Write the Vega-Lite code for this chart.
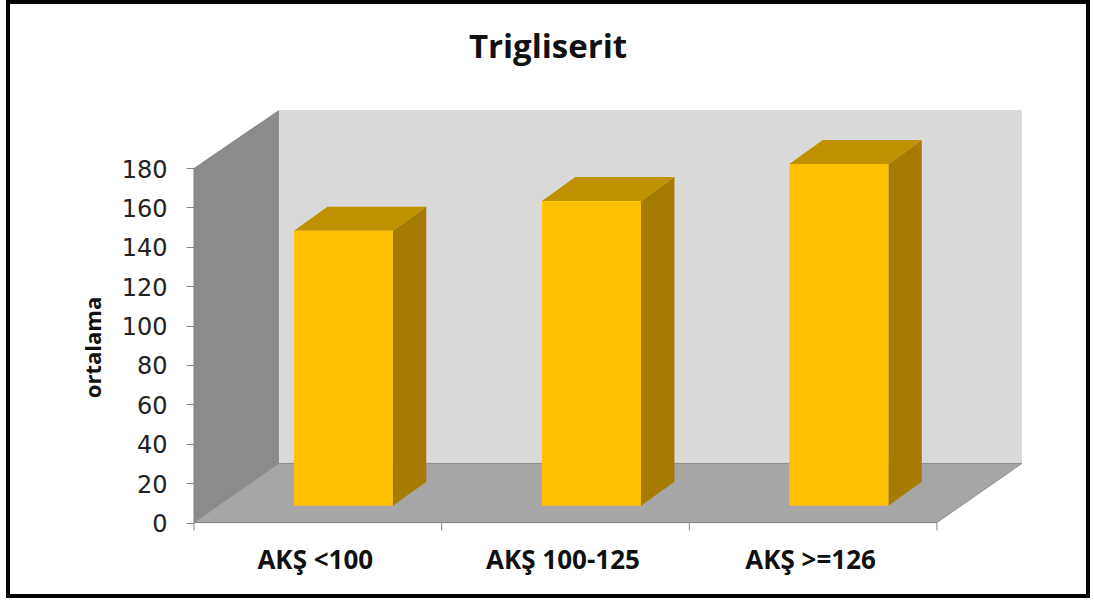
{
"$schema":"https://vega.github.io/schema/vega-lite/v6.json",
"width":1080,"height":594,
"autosize":{"type":"none"},
"padding":{"left":8,"top":2,"right":6,"bottom":5},
"background":"white",
"view":{"stroke":"#000000","strokeWidth":4,"fill":"white"},
"title":{"text":"Trigliserit","anchor":"middle","offset":-63,"font":"Open Sans","fontSize":33,"fontWeight":"bold","color":"#111111"},
"encoding":{
 "x":{"field":"x","type":"quantitative","title":null,"scale":{"domain":[-0.751,3.61],"nice":false,"zero":false},
  "axis":{"orient":"bottom","offset":-73.5,"values":[0.5,1.5,2.5],"ticks":false,"domain":false,"grid":false,"labelPadding":38,"labelOffset":-3,"labelFont":"Open Sans","labelFontSize":26,"labelFontWeight":"bold","labelColor":"#111111","labelBaseline":"middle","labelExpr":"datum.value==0.5?'AKŞ <100':datum.value==1.5?'AKŞ 100-125':'AKŞ >=126'"}},
 "y":{"field":"y","type":"quantitative","scale":{"domain":[-37.3,264.3],"nice":false,"zero":false},
  "axis":{"orient":"left","offset":-186,"values":[0,20,40,60,80,100,120,140,160,180],"domain":false,"grid":false,"tickColor":"#868686","tickSize":8,"labelPadding":19,"labelOffset":2,"labelFont":"DejaVu Sans","labelFontSize":24,"labelColor":"#222222","title":"ortalama","titleFont":"Open Sans","titleFontSize":22,"titleFontWeight":"bold","titleColor":"#111111","titleX":-101,"titleY":345,"titleAngle":-90,"titleBaseline":"middle","titleAlign":"center"}}
},
"layer":[
 {"data":{"values":[{"x":0.343,"x2":3.343,"y":30,"y2":209.5}]},
  "mark":{"type":"rect","color":"#D9D9D9"},
  "encoding":{"x2":{"field":"x2"},"y2":{"field":"y2"}}},
 {"data":{"values":[{"x":0,"y":0,"y2":180},{"x":0.343,"y":30,"y2":209.5}]},
  "mark":{"type":"area","orient":"vertical","color":"#8B8B8B"},
  "encoding":{"y2":{"field":"y2"}}},
 {"data":{"values":[{"y":0,"x":0,"x2":3},{"y":30,"x":0.343,"x2":3.343}]},
  "mark":{"type":"area","orient":"horizontal","color":"#A6A6A6","stroke":"#8F8F8F","strokeWidth":1},
  "encoding":{"x2":{"field":"x2"}}},
 {"data":{"values":[
   {"group":"AKŞ <100","x":0.803,"y":8.5,"y2":148.2},{"group":"AKŞ <100","x":0.938,"y":20.7,"y2":160.3},
   {"group":"AKŞ 100-125","x":1.805,"y":8.5,"y2":163.3},{"group":"AKŞ 100-125","x":1.94,"y":20.7,"y2":175.4},
   {"group":"AKŞ >=126","x":2.804,"y":8.5,"y2":182.1},{"group":"AKŞ >=126","x":2.939,"y":20.7,"y2":194.2}]},
  "mark":{"type":"area","orient":"vertical","color":"#A67C00"},
  "encoding":{"y2":{"field":"y2"},"detail":{"field":"group"}}},
 {"data":{"values":[
   {"group":"AKŞ <100","y":148.2,"x":0.404,"x2":0.803},{"group":"AKŞ <100","y":160.3,"x":0.539,"x2":0.938},
   {"group":"AKŞ 100-125","y":163.3,"x":1.405,"x2":1.805},{"group":"AKŞ 100-125","y":175.4,"x":1.54,"x2":1.94},
   {"group":"AKŞ >=126","y":182.1,"x":2.404,"x2":2.804},{"group":"AKŞ >=126","y":194.2,"x":2.539,"x2":2.939}]},
  "mark":{"type":"area","orient":"horizontal","color":"#BF9000"},
  "encoding":{"x2":{"field":"x2"},"detail":{"field":"group"}}},
 {"data":{"values":[
   {"group":"AKŞ <100","x":0.404,"x2":0.803,"y":8.5,"y2":148.2},
   {"group":"AKŞ 100-125","x":1.405,"x2":1.805,"y":8.5,"y2":163.3},
   {"group":"AKŞ >=126","x":2.404,"x2":2.804,"y":8.5,"y2":182.1}]},
  "mark":{"type":"rect","color":"#FFC000"},
  "encoding":{"x2":{"field":"x2"},"y2":{"field":"y2"}}},
 {"data":{"values":[{"x":0,"y":0,"y2":180}]},
  "mark":{"type":"rule","color":"#868686","strokeWidth":1},
  "encoding":{"y2":{"field":"y2"}}},
 {"data":{"values":[{"x":0,"x2":3,"y":0}]},
  "mark":{"type":"rule","color":"#868686","strokeWidth":1},
  "encoding":{"x2":{"field":"x2"}}},
 {"data":{"values":[{"x":0,"y":0,"y2":-4},{"x":1,"y":0,"y2":-4},{"x":2,"y":0,"y2":-4},{"x":3,"y":0,"y2":-4}]},
  "mark":{"type":"rule","color":"#868686","strokeWidth":1},
  "encoding":{"y2":{"field":"y2"}}}
]
}
